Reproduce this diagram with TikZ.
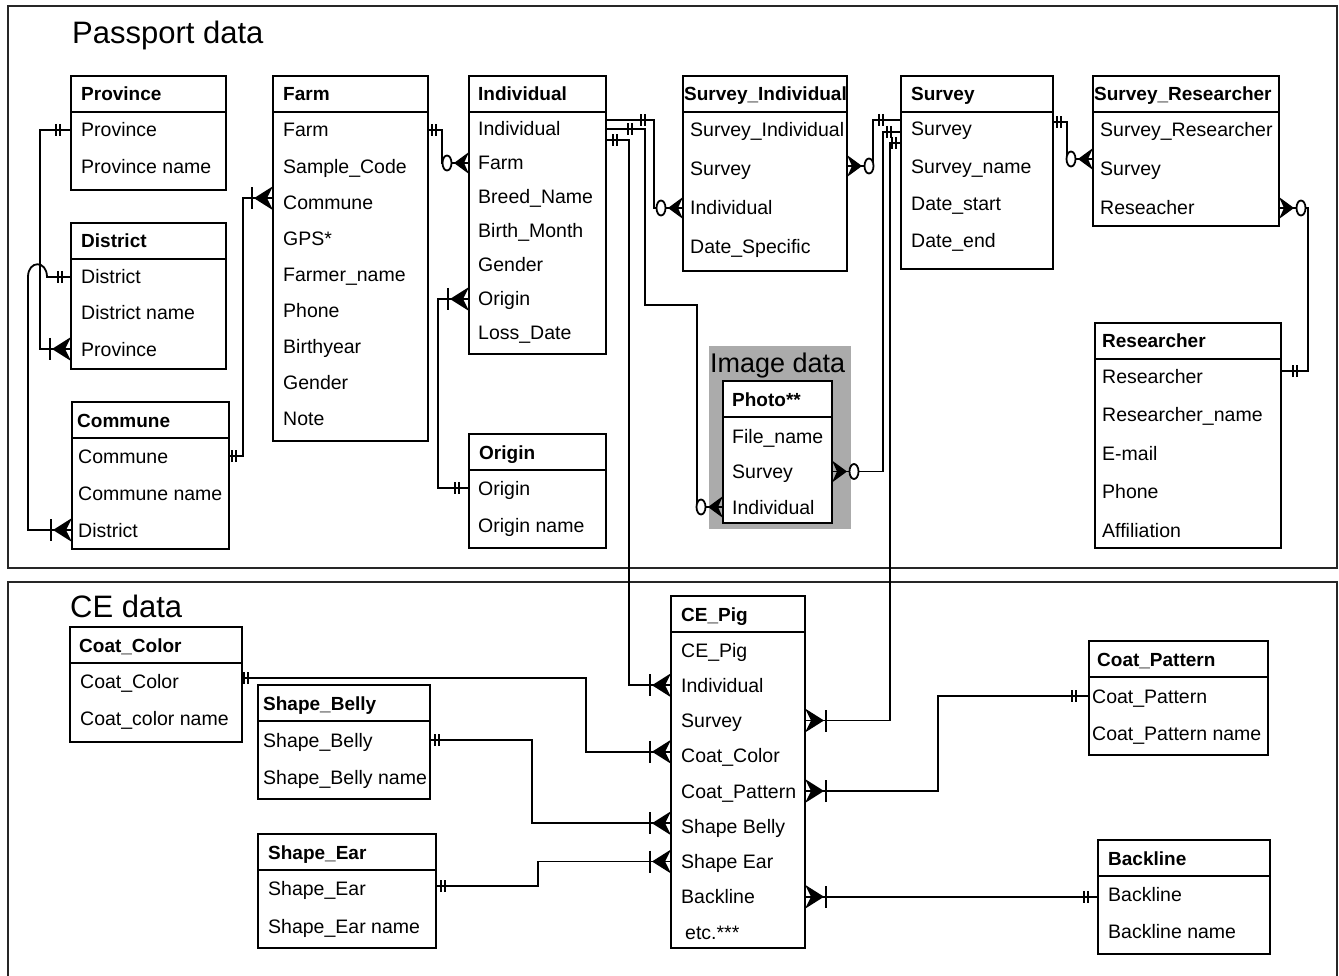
\documentclass[tikz,border=0pt]{standalone}
\usepackage{fontspec}
\setmainfont{Liberation Sans}
\usetikzlibrary{calc}

\tikzset{
  ent/.style={draw, line width=2pt, fill=white, anchor=north west, inner sep=0pt, outer sep=0pt},
  ttl/.style={anchor=west, inner sep=0pt, text height=14pt, text depth=0pt, font=\fontsize{19}{22}\selectfont\bfseries},
  field/.style={anchor=west, inner sep=0pt, text height=14pt, text depth=0pt, font=\fontsize{19.5}{22}\selectfont},
  sect/.style={anchor=base west, inner sep=0pt, font=\fontsize{31}{36}\selectfont},
  rel/.style={line width=1.8pt},
  pics/onlyone/.style={code={\draw[line width=1.7pt] (-#1,-6) -- (-#1,6) (-#1-4,-6) -- (-#1-4,6);}},
  pics/onemany/.style={code={\fill (0,-12) -- (-19,0) -- (0,12) -- (-6,0) -- cycle;
    \draw[line width=1.8pt] (-21,-11) -- (-21,11);}},
  pics/zeromany/.style={code={\fill (0,-11) -- (-15,0) -- (0,11) -- (-5,0) -- cycle;
    \draw[line width=1.8pt, fill=white] (-22,0) ellipse [x radius=4.5pt, y radius=7.5pt];}},
}

\begin{document}
\begin{tikzpicture}[x=1pt, y=-1pt]
	\useasboundingbox (0,0) rectangle (1339,976);
	% frames
	\draw[line width=1.3pt, black!85] (8,6) rectangle (1337,568);
	\draw[line width=1.3pt, black!85] (8,582) rectangle (1337,990);
	\node[sect] (pass-t) at (72,44) {Passport data};
	\node[sect] (ce-data) at (70,617) {CE data};
	\node[fill=black!33, minimum width=142, minimum height=183, anchor=north west, inner sep=0pt] (imgbg) at (709,346) {};
	\node[anchor=base west, inner sep=0pt, font=\fontsize{27}{30}\selectfont] (img-t) at (710,373) {Image data};

	% Province
	\node[ent, minimum width=155, minimum height=36] (prov) at (71,76) {};
	\node[ent, minimum width=155, minimum height=78] (provb) at (prov.south west) {};
	\node[ttl] (prov-t) at ($(prov.west)+(10,0)$) {Province};
	\foreach \t [count=\i] in {Province, Province name}
		\node[field] (prov-\i) at ($(provb.north west)+(10,{18+37*(\i-1)})$) {\t};
	% District
	\node[ent, minimum width=155, minimum height=36] (dist) at (71,223) {};
	\node[ent, minimum width=155, minimum height=110] (distb) at (dist.south west) {};
	\node[ttl] (dist-t) at ($(dist.west)+(10,0)$) {District};
	\foreach \t [count=\i] in {District, District name, Province}
		\node[field] (dist-\i) at ($(distb.north west)+(10,{18+36*(\i-1)})$) {\t};
	% Commune
	\node[ent, minimum width=157, minimum height=36] (comm) at (72,402) {};
	\node[ent, minimum width=157, minimum height=111] (commb) at (comm.south west) {};
	\node[ttl] (comm-t) at ($(comm.west)+(5,0)$) {Commune};
	\foreach \t [count=\i] in {Commune, Commune name, District}
		\node[field] (comm-\i) at ($(commb.north west)+(6,{18+37*(\i-1)})$) {\t};
	% Farm
	\node[ent, minimum width=155, minimum height=36] (farm) at (273,76) {};
	\node[ent, minimum width=155, minimum height=329] (farmb) at (farm.south west) {};
	\node[ttl] (farm-t) at ($(farm.west)+(10,0)$) {Farm};
	\foreach \t [count=\i] in {Farm, Sample\_Code, Commune, GPS*, Farmer\_name, Phone, Birthyear, Gender, Note}
		\node[field] (farm-\i) at ($(farmb.north west)+(10,{18+36.1*(\i-1)})$) {\t};
	% Individual
	\node[ent, minimum width=137, minimum height=36] (ind) at (469,76) {};
	\node[ent, minimum width=137, minimum height=242] (indb) at (ind.south west) {};
	\node[ttl] (ind-t) at ($(ind.west)+(9,0)$) {Individual};
	\foreach \t [count=\i] in {Individual, Farm, Breed\_Name, Birth\_Month, Gender, Origin, Loss\_Date}
		\node[field] (ind-\i) at ($(indb.north west)+(9,{17+34*(\i-1)})$) {\t};
	% Survey_Individual
	\node[ent, minimum width=164, minimum height=36] (si) at (683,76) {};
	\node[ent, minimum width=164, minimum height=159] (sib) at (si.south west) {};
	\node[ttl] (si-t) at ($(si.west)+(1,0)$) {Survey\_Individual};
	\foreach \t [count=\i] in {Survey\_Individual, Survey, Individual, Date\_Specific}
		\node[field] (si-\i) at ($(sib.north west)+(7,{18+39*(\i-1)})$) {\t};
	% Survey
	\node[ent, minimum width=152, minimum height=36] (surv) at (901,76) {};
	\node[ent, minimum width=152, minimum height=157] (survb) at (surv.south west) {};
	\node[ttl] (surv-t) at ($(surv.west)+(10,0)$) {Survey};
	\foreach \t [count=\i] in {Survey, Survey\_name, Date\_start, Date\_end}
		\node[field] (surv-\i) at ($(survb.north west)+(10,{17+37.3*(\i-1)})$) {\t};
	% Survey_Researcher
	\node[ent, minimum width=186, minimum height=36] (sr) at (1093,76) {};
	\node[ent, minimum width=186, minimum height=114] (srb) at (sr.south west) {};
	\node[ttl] (sr-t) at ($(sr.west)+(1,0)$) {Survey\_Researcher};
	\foreach \t [count=\i] in {Survey\_Researcher, Survey, Reseacher}
		\node[field] (sr-\i) at ($(srb.north west)+(7,{18+39*(\i-1)})$) {\t};
	% Researcher
	\node[ent, minimum width=186, minimum height=36] (res) at (1095,323) {};
	\node[ent, minimum width=186, minimum height=189] (resb) at (res.south west) {};
	\node[ttl] (res-t) at ($(res.west)+(7,0)$) {Researcher};
	\foreach \t [count=\i] in {Researcher, Researcher\_name, E-mail, Phone, Affiliation}
		\node[field] (res-\i) at ($(resb.north west)+(7,{17+38.5*(\i-1)})$) {\t};
	% Origin
	\node[ent, minimum width=137, minimum height=36] (orig) at (469,434) {};
	\node[ent, minimum width=137, minimum height=78] (origb) at (orig.south west) {};
	\node[ttl] (orig-t) at ($(orig.west)+(10,0)$) {Origin};
	\foreach \t [count=\i] in {Origin, Origin name}
		\node[field] (orig-\i) at ($(origb.north west)+(9,{18+37*(\i-1)})$) {\t};
	% Photo
	\node[ent, minimum width=109, minimum height=36] (photo) at (723,381) {};
	\node[ent, minimum width=109, minimum height=106] (photob) at (photo.south west) {};
	\node[ttl] (photo-t) at ($(photo.west)+(9,0)$) {Photo**};
	\foreach \t [count=\i] in {File\_name, Survey, Individual}
		\node[field] (photo-\i) at ($(photob.north west)+(9,{19+35.5*(\i-1)})$) {\t};

	% CE_Pig
	\node[ent, minimum width=134, minimum height=36] (ce) at (671,596) {};
	\node[ent, minimum width=134, minimum height=316] (ceb) at (ce.south west) {};
	\node[ttl] (ce-t) at ($(ce.west)+(10,0)$) {CE\_Pig};
	\foreach \t [count=\i] in {CE\_Pig, Individual, Survey, Coat\_Color, Coat\_Pattern, Shape Belly, Shape Ear, Backline, \hspace*{4pt}etc.***}
		\node[field] (ce-\i) at ($(ceb.north west)+(10,{18+35.25*(\i-1)})$) {\t};
	% Coat_Color
	\node[ent, minimum width=172, minimum height=36] (cc) at (70,627) {};
	\node[ent, minimum width=172, minimum height=79] (ccb) at (cc.south west) {};
	\node[ttl] (cc-t) at ($(cc.west)+(9,0)$) {Coat\_Color};
	\foreach \t [count=\i] in {Coat\_Color, Coat\_color name}
		\node[field] (cc-\i) at ($(ccb.north west)+(10,{18+37*(\i-1)})$) {\t};
	% Shape_Belly
	\node[ent, minimum width=172, minimum height=36] (sb) at (258,685) {};
	\node[ent, minimum width=172, minimum height=78] (sbb) at (sb.south west) {};
	\node[ttl] (sb-t) at ($(sb.west)+(5,0)$) {Shape\_Belly};
	\foreach \t [count=\i] in {Shape\_Belly, Shape\_Belly name}
		\node[field] (sb-\i) at ($(sbb.north west)+(5,{19+37*(\i-1)})$) {\t};
	% Shape_Ear
	\node[ent, minimum width=178, minimum height=36] (se) at (258,834) {};
	\node[ent, minimum width=178, minimum height=78] (seb) at (se.south west) {};
	\node[ttl] (se-t) at ($(se.west)+(10,0)$) {Shape\_Ear};
	\foreach \t [count=\i] in {Shape\_Ear, Shape\_Ear name}
		\node[field] (se-\i) at ($(seb.north west)+(10,{18+38*(\i-1)})$) {\t};
	% Coat_Pattern
	\node[ent, minimum width=179, minimum height=36] (cp) at (1089,641) {};
	\node[ent, minimum width=179, minimum height=78] (cpb) at (cp.south west) {};
	\node[ttl] (cp-t) at ($(cp.west)+(8,0)$) {Coat\_Pattern};
	\foreach \t [count=\i] in {Coat\_Pattern, Coat\_Pattern name}
		\node[field] (cp-\i) at ($(cpb.north west)+(3,{19+37*(\i-1)})$) {\t};
	% Backline
	\node[ent, minimum width=172, minimum height=36] (back) at (1098,840) {};
	\node[ent, minimum width=172, minimum height=78] (backb) at (back.south west) {};
	\node[ttl] (back-t) at ($(back.west)+(10,0)$) {Backline};
	\foreach \t [count=\i] in {Backline, Backline name}
		\node[field] (back-\i) at ($(backb.north west)+(10,{18+37*(\i-1)})$) {\t};

	% relations, passport data
	\draw[rel] (provb.west |- prov-1) pic{onlyone=11} -- ++(-31,0) |- (distb.west |- dist-3) pic{onemany};
	\draw[rel] (distb.west |- dist-1) pic{onlyone=9} -- (47,277) .. controls (47,260) and (28,260) .. (28,277) |- (commb.west |- comm-3) pic{onemany};
	\draw[rel] (commb.east |- comm-1) pic[rotate=180]{onlyone=3} -- ++(14,0) |- ($(farmb.west |- farm-3)+(0,-4)$) pic{onemany};
	\draw[rel] (farmb.east |- farm-1) pic[rotate=180]{onlyone=4} -- ++(14,0) |- (indb.west |- ind-2) pic{zeromany};
	\draw[rel] (origb.west |- orig-1) pic{onlyone=10} -- ++(-31,0) |- (indb.west |- ind-6) pic{onemany};
	\draw[rel] ($(indb.east |- ind-1)+(0,-9)$) pic[rotate=180]{onlyone=35} -- ++(48,0) |- (sib.west |- si-3) pic{zeromany};
	\draw[rel] (indb.east |- ind-1) pic[rotate=180]{onlyone=22} -- ++(39,0) -- ++(0,176) -| ($(photob.west |- photo-3)+(-26,0)$) -- (photob.west |- photo-3) pic{zeromany};
	\draw[rel] ($(indb.east |- ind-1)+(0,11)$) pic[rotate=180]{onlyone=7} -- ++(23,0) |- (ceb.west |- ce-2) pic{onemany};
	\draw[rel] ($(survb.west |- surv-1)+(0,-9)$) pic{onlyone=18} -- ++(-28,0) |- ($(sib.east |- si-2)+(0,-3)$) pic[rotate=180]{zeromany};
	\draw[rel] ($(survb.west |- surv-1)+(0,3)$) pic{onlyone=10} -- ++(-18,0) |- (photob.east |- photo-2) pic[rotate=180]{zeromany};
	\draw[rel] ($(survb.west |- surv-1)+(0,14)$) pic{onlyone=5} -- ++(-11,0) |- (ceb.east |- ce-3) pic[rotate=180]{onemany};
	\draw[rel] ($(survb.east |- surv-1)+(0,-7)$) pic[rotate=180]{onlyone=4} -- ++(14,0) |- ($(srb.west |- sr-2)+(0,-10)$) pic{zeromany};
	\draw[rel] (srb.east |- sr-3) pic[rotate=180]{zeromany} -- ++(29,0) |- ($(resb.east |- res-1)+(0,-5)$) pic[rotate=180]{onlyone=12};

	% relations, CE data
	\draw[rel] ($(ccb.east |- cc-1)+(0,-3)$) pic[rotate=180]{onlyone=2} -- ++(344,0) |- ($(ceb.west |- ce-4)+(0,-4)$) pic{onemany};
	\draw[rel] (sbb.east |- sb-1) pic[rotate=180]{onlyone=5} -- ++(102,0) |- ($(ceb.west |- ce-6)+(0,-3)$) pic{onemany};
	\draw[rel] ($(seb.east |- se-1)+(0,-2)$) pic[rotate=180]{onlyone=5} -- ++(102,0) |- (ceb.west |- ce-7) pic{onemany};
	\draw[rel] (ceb.east |- ce-5) pic[rotate=180]{onemany} -- ++(133,0) |- (cpb.west |- cp-1) pic{onlyone=13};
	\draw[rel] (ceb.east |- ce-8) pic[rotate=180]{onemany} -- (backb.west |- ce-8) pic{onlyone=10};
\end{tikzpicture}
\end{document}
